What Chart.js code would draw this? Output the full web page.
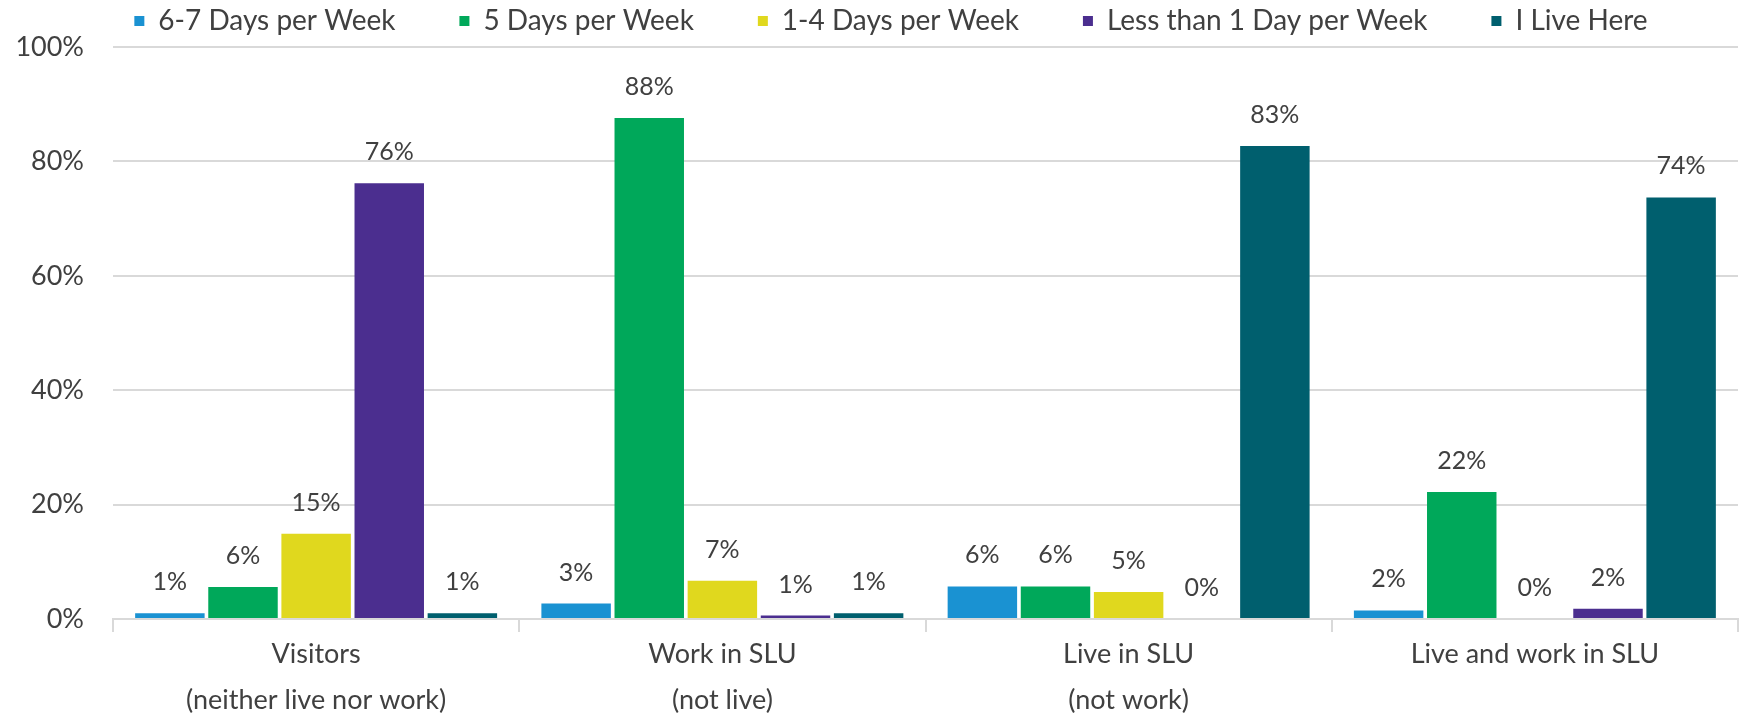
<!DOCTYPE html>
<html lang="en">
<head>
  <meta charset="UTF-8" />
  <title>Frequency in SLU</title>
  <script src="https://cdn.jsdelivr.net/npm/chart.js"></script>
  <style>
    * { margin: 0; padding: 0; box-sizing: border-box; }
    body { background: #fff; width: 1758px; height: 714px; overflow: hidden; }
    .wrap { position: relative; width: 1758px; height: 714px; }
  </style>
</head>
<body>
  <div class="wrap"><canvas id="chart"></canvas></div>
  <script>
    const categories = [
      ['Visitors', '(neither live nor work)'],
      ['Work in SLU', '(not live)'],
      ['Live in SLU', '(not work)'],
      ['Live and work in SLU']
    ];
    const seriesNames = ['6-7 Days per Week', '5 Days per Week', '1-4 Days per Week', 'Less than 1 Day per Week', 'I Live Here'];
    const sixSeven = [1.0, 2.7, 5.7, 1.5];
    const fiveDays = [5.6, 87.6, 5.7, 22.2];
    const oneFour = [14.9, 6.7, 4.7, 0];
    const lessOne = [76.2, 0.6, 0, 1.8];
    const liveHere = [1.0, 1.0, 82.7, 73.7];
    const yTicks = [0, 20, 40, 60, 80, 100];
    const colors = ['#1A92D2', '#00A85A', '#E0D81E', '#4B2E8F', '#005F6E'];

    const FONT = 'Lato, "Open Sans", sans-serif';
    const TEXT = '#404040';

    const seriesValues = [sixSeven, fiveDays, oneFour, lessOne, liveHere];
    const datasets = seriesNames.map((name, i) => ({
      label: name,
      data: seriesValues[i],
      backgroundColor: colors[i],
      barPercentage: 0.95,
      categoryPercentage: 0.9
    }));

    // value labels above each bar
    const valueLabels = {
      id: 'valueLabels',
      afterDatasetsDraw(chart) {
        const ctx = chart.ctx;
        ctx.save();
        ctx.font = '25px ' + FONT;
        ctx.fillStyle = TEXT;
        ctx.textAlign = 'center';
        ctx.textBaseline = 'middle';
        chart.data.datasets.forEach((ds, i) => {
          chart.getDatasetMeta(i).data.forEach((bar, j) => {
            ctx.fillText(Math.round(ds.data[j]) + '%', bar.x, bar.y - 31);
          });
        });
        ctx.restore();
      }
    };

    // legend row across the top, drawn by hand so it sits close to the edge
    const topLegend = {
      id: 'topLegend',
      afterDraw(chart) {
        const ctx = chart.ctx;
        ctx.save();
        ctx.font = '28px ' + FONT;
        ctx.textBaseline = 'middle';
        const box = 10, boxGap = 14, itemGap = 64, y = 21;
        const widths = seriesNames.map(n => box + boxGap + ctx.measureText(n).width);
        const total = widths.reduce((a, b) => a + b, 0) + itemGap * (widths.length - 1);
        let x = chart.width / 2 + 12 - total / 2;
        seriesNames.forEach((name, i) => {
          ctx.fillStyle = colors[i];
          ctx.fillRect(x, y - box / 2, box, box);
          ctx.fillStyle = TEXT;
          ctx.fillText(name, x + box + boxGap, y);
          x += widths[i] + itemGap;
        });
        ctx.restore();
      }
    };

    new Chart(document.getElementById('chart'), {
      type: 'bar',
      data: { labels: categories, datasets },
      plugins: [valueLabels, topLegend],
      options: {
        responsive: true,
        maintainAspectRatio: false,
        animation: false,
        layout: { padding: { left: 0, right: 20, top: 47, bottom: 0 } },
        plugins: {
          tooltip: { enabled: false },
          legend: { display: false }
        },
        scales: {
          x: {
            grid: {
              offset: true,
              drawOnChartArea: false,
              color: '#D9D9D9',
              lineWidth: 2,
              tickLength: 13
            },
            border: { color: '#D9D9D9', width: 2 },
            ticks: {
              color: TEXT,
              font: { family: FONT, size: 27, lineHeight: 1.68 },
              padding: 0
            },
            afterFit(scale) { scale.height = 95; }
          },
          y: {
            min: 0,
            max: 100,
            afterBuildTicks(scale) { scale.ticks = yTicks.map(v => ({ value: v })); },
            grid: { color: '#D9D9D9', lineWidth: 2, drawTicks: false },
            border: { display: false },
            ticks: {
              color: TEXT,
              font: { family: FONT, size: 27 },
              padding: 29,
              callback: v => v + '%'
            },
            afterFit(scale) { scale.width = 113; }
          }
        }
      }
    });
  </script>
</body>
</html>
